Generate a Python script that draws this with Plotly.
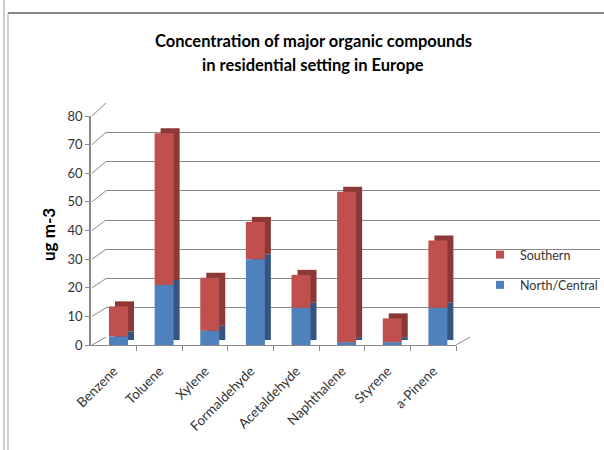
import plotly.graph_objects as go

# ---- data ----
compounds = ["Benzene", "Toluene", "Xylene", "Formaldehyde", "Acetaldehyde",
             "Naphthalene", "Styrene", "a-Pinene"]
north_central = [3, 21, 5, 30, 13, 1, 1, 13]
southern = [10.5, 53, 18.5, 13, 11.5, 52.5, 8.3, 23.5]
y_ticks = [0, 10, 20, 30, 40, 50, 60, 70, 80]

W, H = 604, 450
def px(x):
    return x / W
def py(y):
    return 1 - y / H

# geometry (pixels) of the faked 3-D box
FRONT_L, FRONT_R, FRONT_Y0, FRONT_Y80 = 91, 456, 345, 116
BACK_L, BACK_R, BACK_Y0, BACK_Y80 = 106, 600, 337, 103
YMAX = 80
unit_px_x = (FRONT_R - FRONT_L) / len(compounds)
unit_px_y = (FRONT_Y0 - FRONT_Y80) / YMAX
bar_w = 19 / unit_px_x
bar_shift = 4.7 / unit_px_x
depth_dx = 6 / unit_px_x
depth_dy = 5 / unit_px_y

xs = list(range(len(compounds)))
red, blue = "#C0504D", "#4F81BD"
red_side, blue_side = "#8C3836", "#34557F"

fig = go.Figure()
# invisible trace so the back-wall subplot is drawn
fig.add_trace(go.Scatter(x=[0], y=[0], mode="markers", marker=dict(opacity=0),
                         showlegend=False, hoverinfo="skip", xaxis="x", yaxis="y"))

front_off = -bar_w / 2 + bar_shift
# depth (side/top faces)
fig.add_trace(go.Bar(x=xs, y=north_central, base=[depth_dy] * len(xs),
                     offset=front_off + depth_dx, width=bar_w, marker_color=blue_side,
                     marker_line_width=0, showlegend=False, xaxis="x2", yaxis="y2"))
fig.add_trace(go.Bar(x=xs, y=southern, base=[b + depth_dy for b in north_central],
                     offset=front_off + depth_dx, width=bar_w, marker_color=red_side,
                     marker_line_width=0, showlegend=False, xaxis="x2", yaxis="y2"))
# front faces
fig.add_trace(go.Bar(x=xs, y=north_central, base=[0] * len(xs), name="North/Central",
                     offset=front_off, width=bar_w, marker_color=blue, marker_line_width=0,
                     showlegend=False, legendgroup="n", xaxis="x2", yaxis="y2"))
fig.add_trace(go.Bar(x=xs, y=southern, base=north_central, name="Southern",
                     offset=front_off, width=bar_w, marker_color=red, marker_line_width=0,
                     showlegend=False, legendgroup="s", xaxis="x2", yaxis="y2"))
# legend entries with small square keys
fig.add_trace(go.Scatter(x=[None], y=[None], mode="markers", name="Southern",
                         marker=dict(symbol="square", size=8, color=red),
                         legendrank=1, legendgroup="s", xaxis="x2", yaxis="y2"))
fig.add_trace(go.Scatter(x=[None], y=[None], mode="markers", name="North/Central",
                         marker=dict(symbol="square", size=8, color=blue),
                         legendrank=2, legendgroup="n", xaxis="x2", yaxis="y2"))

grid_col = "#8A8A8A"
axis_col = "#8A8A8A"
font_fam = "Lato, 'Open Sans', sans-serif"

fig.update_layout(
    width=W, height=H,
    margin=dict(l=0, r=0, t=0, b=0, pad=0, autoexpand=False),
    paper_bgcolor="white", plot_bgcolor="rgba(0,0,0,0)",
    barmode="overlay",
    font=dict(family=font_fam, size=12, color="#333333"),
    xaxis=dict(domain=[px(BACK_L), px(BACK_R)], range=[0, 1], anchor="y", automargin=False,
               showgrid=False, showticklabels=False, zeroline=False, fixedrange=True),
    yaxis=dict(domain=[py(BACK_Y0), py(BACK_Y80)], range=[0, YMAX], anchor="x", automargin=False,
               tickvals=y_ticks, showgrid=True, gridcolor=grid_col, gridwidth=1,
               showticklabels=False, zeroline=False, ticks=""),
    xaxis2=dict(domain=[px(FRONT_L), px(FRONT_R)], range=[-0.5, len(compounds) - 0.5],
                anchor="y2", automargin=False, tickvals=xs, ticktext=compounds, tickangle=-45,
                ticks="", showgrid=False, zeroline=False, showline=True,
                linecolor=axis_col, linewidth=1, ticklabelstandoff=12,
                tickfont=dict(size=13.5, color="#333333"),
                minor=dict(tickvals=[i + 0.5 for i in xs], ticks="outside",
                           ticklen=5, tickcolor=axis_col, showgrid=False)),
    yaxis2=dict(domain=[py(FRONT_Y0), py(FRONT_Y80)], range=[0, YMAX], anchor="x2",
                automargin=False, tickvals=y_ticks, showgrid=False, zeroline=False,
                showline=True, linecolor=axis_col, linewidth=1.5, ticks="outside", ticklen=4,
                tickcolor=axis_col, tickfont=dict(size=13, color="#333333")),
    legend=dict(x=px(480), y=py(240), xanchor="left", yanchor="top",
                traceorder="grouped", tracegroupgap=11, itemwidth=30,
                font=dict(size=12.5, color="#333333"), bgcolor="rgba(0,0,0,0)"),
    showlegend=True,
)

shapes = []
# diagonal wall connectors from front axis to back gridlines
for v in y_ticks:
    fy = FRONT_Y0 - v * (FRONT_Y0 - FRONT_Y80) / YMAX
    by = BACK_Y0 - v * (BACK_Y0 - BACK_Y80) / YMAX
    shapes.append(dict(type="line", xref="paper", yref="paper",
                       x0=px(FRONT_L + 1), y0=py(fy), x1=px(BACK_L), y1=py(by),
                       line=dict(color=grid_col, width=1)))
# right edge of floor
shapes.append(dict(type="line", xref="paper", yref="paper",
                   x0=px(FRONT_R), y0=py(FRONT_Y0), x1=px(FRONT_R + 14), y1=py(BACK_Y0),
                   line=dict(color=grid_col, width=1)))
# outer frame
shapes.append(dict(type="line", xref="paper", yref="paper", x0=px(4), x1=px(4), y0=0, y1=1,
                   line=dict(color="#BDBDBD", width=1.5)))
shapes.append(dict(type="line", xref="paper", yref="paper", x0=px(8), x1=px(8), y0=0, y1=py(13),
                   line=dict(color="#A6A6A6", width=1)))
shapes.append(dict(type="line", xref="paper", yref="paper", x0=px(8), x1=1, y0=py(13), y1=py(13),
                   line=dict(color="#878787", width=2)))
fig.update_layout(shapes=shapes)

fig.add_annotation(text="<b>Concentration of major organic compounds</b>",
                   xref="paper", yref="paper", x=px(313), y=py(41), showarrow=False,
                   xanchor="center", yanchor="middle",
                   font=dict(size=16.5, color="#000000", family=font_fam))
fig.add_annotation(text="<b>in residential setting in Europe</b>",
                   xref="paper", yref="paper", x=px(313), y=py(65), showarrow=False,
                   xanchor="center", yanchor="middle",
                   font=dict(size=16.5, color="#000000", family=font_fam))
fig.add_annotation(text="<b>ug m-3</b>", xref="paper", yref="paper", x=px(48), y=py(235),
                   showarrow=False, textangle=-90, xanchor="center", yanchor="middle",
                   font=dict(size=17, color="#000000", family=font_fam))

fig.write_html("out.html", config={"displayModeBar": False},
               post_script="document.body.style.margin='0';")
